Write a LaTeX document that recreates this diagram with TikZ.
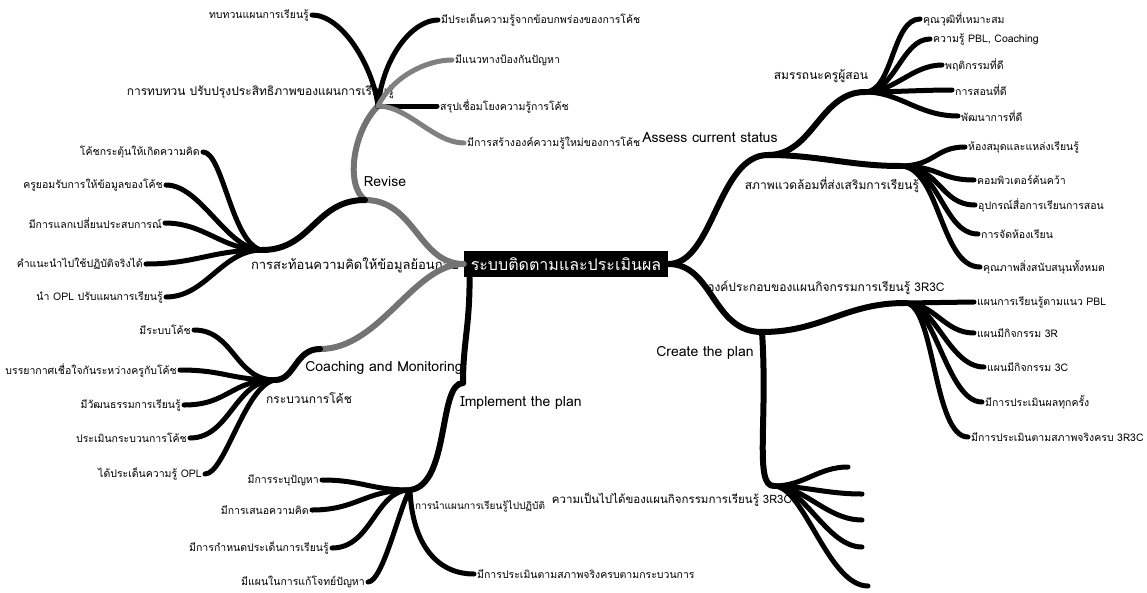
\documentclass[tikz,border=0pt]{standalone}
\usepackage{fontspec}
\setmainfont[Script=Thai]{Loma}
\usetikzlibrary{positioning}

\tikzset{
  hub/.style={fill=black, text=white, font=\fontsize{16}{19}\selectfont, inner xsep=7pt, inner ysep=7pt},
  stage/.style={font=\fontsize{14}{16}\selectfont, inner sep=1pt},
  topic/.style={font=\fontsize{12}{14}\selectfont, inner sep=1pt},
  leaf/.style={font=\fontsize{10.5}{12}\selectfont, inner sep=3pt},
  limb/.style={draw=black, line width=6pt, line cap=round},
  greylimb/.style={limb, draw=black!55},
  twig/.style={draw=black, line width=5pt, line cap=round},
  greytwig/.style={twig, draw=black!50},
}

\begin{document}
\begin{tikzpicture}[x=1pt, y=-1pt]
\useasboundingbox (0,0) rectangle (1147,592);

\node[hub] (root) at (566,264) {ระบบติดตามและประเมินผล};

\coordinate (jAssess) at (768,155);
\coordinate (jSmr) at (865,92);
\coordinate (jEnv) at (900,166);
\coordinate (jCreate) at (762,332);
\coordinate (jComp) at (905,303);
\coordinate (jFeas) at (774,486);
\coordinate (jRevise) at (365,200);
\coordinate (jReview) at (378,106);
\coordinate (jReflect) at (262,250);
\coordinate (jCoach) at (320,349);
\coordinate (jProc) at (275,380);
\coordinate (jImpl) at (463,383);
\coordinate (jUse) at (410,490);

\node[stage] (assess) at (710,138) {Assess current status};
\node[stage] (create) at (705,353) {Create the plan};
\node[stage] (revise) at (385,182) {Revise};
\node[stage] (coach) at (384,368) {Coaching and Monitoring};
\node[stage] (impl) at (521,403) {Implement the plan};

\node[topic] (smr) at (821,76) {สมรรถนะครูผู้สอน};
\node[topic] (env) at (832,185) {สภาพแวดล้อมที่ส่งเสริมการเรียนรู้};
\node[topic] (comp) at (826,288) {องค์ประกอบของแผนกิจกรรมการเรียนรู้ 3R3C};
\node[topic, anchor=east, font=\fontsize{11.5}{14}\selectfont] (feas) at (793,500) {ความเป็นไปได้ของแผนกิจกรรมการเรียนรู้ 3R3C};
\node[topic, anchor=east] (review) at (395,92) {การทบทวน ปรับปรุงประสิทธิภาพของแผนการเรียนรู้};
\node[topic, font=\fontsize{13}{15}\selectfont] (reflect) at (355,265) {การสะท้อนความคิดให้ข้อมูลย้อนกลับ};
\node[topic] (proc) at (309,398) {กระบวนการโค้ช};
\node[leaf, anchor=west, inner sep=1pt, font=\fontsize{10}{12}\selectfont] (use) at (414,506) {การนำแผนการเรียนรู้ไปปฏิบัติ};

\node[leaf, anchor=west] (sm1) at (920,19) {คุณวุฒิที่เหมาะสม};
\node[leaf, anchor=west] (sm2) at (930,39) {ความรู้ PBL, Coaching};
\node[leaf, anchor=west] (sm3) at (942,65) {พฤติกรรมที่ดี};
\node[leaf, anchor=west] (sm4) at (952,90) {การสอนที่ดี};
\node[leaf, anchor=west] (sm5) at (958,116) {พัฒนาการที่ดี};

\node[leaf, anchor=west] (en1) at (965,147) {ห้องสมุดและแหล่งเรียนรู้};
\node[leaf, anchor=west] (en2) at (974,180) {คอมพิวเตอร์ค้นคว้า};
\node[leaf, anchor=west] (en3) at (975,205) {อุปกรณ์สื่อการเรียนการสอน};
\node[leaf, anchor=west] (en4) at (978,234) {การจัดห้องเรียน};
\node[leaf, anchor=west] (en5) at (980,267) {คุณภาพสิ่งสนับสนุนทั้งหมด};

\node[leaf, anchor=west] (cp1) at (974,302) {แผนการเรียนรู้ตามแนว PBL};
\node[leaf, anchor=west] (cp2) at (974,333) {แผนมีกิจกรรม 3R};
\node[leaf, anchor=west] (cp3) at (984,367) {แผนมีกิจกรรม 3C};
\node[leaf, anchor=west] (cp4) at (982,402) {มีการประเมินผลทุกครั้ง};
\node[leaf, anchor=west] (cp5) at (968,437) {มีการประเมินตามสภาพจริงครบ 3R3C};

\coordinate (f1) at (848,467);
\coordinate (f2) at (862,494);
\coordinate (f3) at (862,520);
\coordinate (f4) at (862,547);
\coordinate (f5) at (868,586);

\node[leaf, anchor=east] (rv1) at (312,15) {ทบทวนแผนการเรียนรู้};
\node[leaf, anchor=west] (rv2) at (438,20) {มีประเด็นความรู้จากข้อบกพร่องของการโค้ช};
\node[leaf, anchor=west] (rv3) at (452,60) {มีแนวทางป้องกันปัญหา};
\node[leaf, anchor=west] (rv4) at (437,106) {สรุปเชื่อมโยงความรู้การโค้ช};
\node[leaf, anchor=west] (rv5) at (464,143) {มีการสร้างองค์ความรู้ใหม่ของการโค้ช};

\node[leaf, anchor=east] (rf1) at (203,152) {โค้ชกระตุ้นให้เกิดความคิด};
\node[leaf, anchor=east] (rf2) at (166,185) {ครูยอมรับการให้ข้อมูลของโค้ช};
\node[leaf, anchor=east] (rf3) at (165,223) {มีการแลกเปลี่ยนประสบการณ์};
\node[leaf, anchor=east] (rf4) at (146,264) {คำแนะนำไปใช้ปฏิบัติจริงได้};
\node[leaf, anchor=east] (rf5) at (166,297) {นำ OPL ปรับแผนการเรียนรู้};

\node[leaf, anchor=east] (pc1) at (194,330) {มีระบบโค้ช};
\node[leaf, anchor=east] (pc2) at (180,370) {บรรยากาศเชื่อใจกันระหว่างครูกับโค้ช};
\node[leaf, anchor=east] (pc3) at (184,405) {มีวัฒนธรรมการเรียนรู้};
\node[leaf, anchor=east] (pc4) at (190,438) {ประเมินกระบวนการโค้ช};
\node[leaf, anchor=east] (pc5) at (205,474) {ได้ประเด็นความรู้ OPL};

\node[leaf, anchor=east] (us1) at (322,480) {มีการระบุปัญหา};
\node[leaf, anchor=east] (us2) at (312,510) {มีการเสนอความคิด};
\node[leaf, anchor=east] (us3) at (332,548) {มีการกำหนดประเด็นการเรียนรู้};
\node[leaf, anchor=east] (us4) at (368,582) {มีแผนในการแก้โจทย์ปัญหา};
\node[leaf, anchor=west] (us5) at (474,574) {มีการประเมินตามสภาพจริงครบตามกระบวนการ};

\draw[limb] (root.east) .. controls +(45,0) and +(-50,0) .. (jAssess);
\draw[limb] (root.east) .. controls +(45,0) and +(-50,0) .. (jCreate);
\draw[limb] (jAssess) .. controls +(45,0) and +(-45,0) .. (jSmr);
\draw[limb] (jAssess) .. controls +(50,0) and +(-50,0) .. (jEnv);
\draw[limb] (jCreate) .. controls +(60,0) and +(-60,0) .. (jComp);
\draw[limb] (jCreate) .. controls +(6,90) and +(-20,0) .. (jFeas);

\draw[greylimb] (root.west) .. controls +(-45,0) and +(50,0) .. (jRevise);
\draw[greylimb] (root.west) .. controls +(-50,0) and +(60,0) .. (jCoach);
\draw[limb] ([xshift=6pt]root.south west) .. controls +(0,50) and +(0,-40) .. (jImpl);
\draw[greylimb] (jRevise) .. controls +(-20,-15) and +(-25,25) .. (jReview);
\draw[limb] (jRevise) .. controls +(-50,0) and +(50,0) .. (jReflect);
\draw[limb] (jCoach) .. controls +(-25,0) and +(20,0) .. (jProc);
\draw[limb] (jImpl) .. controls +(-25,0) and +(40,-5) .. (jUse);

\draw[twig] (jSmr) .. controls +(28,0) and +(-28,0) .. (sm1.west);
\draw[twig] (jSmr) .. controls +(30,0) and +(-28,0) .. (sm2.west);
\draw[twig] (jSmr) .. controls +(30,0) and +(-30,0) .. (sm3.west);
\draw[twig] (jSmr) .. controls +(30,0) and +(-30,0) .. (sm4.west);
\draw[twig] (jSmr) .. controls +(35,0) and +(-40,0) .. (sm5.west);

\draw[twig] (jEnv) .. controls +(35,0) and +(-30,0) .. (en1.west);
\draw[twig] (jEnv) .. controls +(40,0) and +(-35,0) .. (en2.west);
\draw[twig] (jEnv) .. controls +(40,0) and +(-35,0) .. (en3.west);
\draw[twig] (jEnv) .. controls +(40,0) and +(-35,0) .. (en4.west);
\draw[twig] (jEnv) .. controls +(40,0) and +(-40,0) .. (en5.west);

\draw[twig] (jComp) -- (cp1.west);
\draw[twig] (jComp) .. controls +(30,0) and +(-30,0) .. (cp2.west);
\draw[twig] (jComp) .. controls +(30,0) and +(-35,0) .. (cp3.west);
\draw[twig] (jComp) .. controls +(30,0) and +(-35,0) .. (cp4.west);
\draw[twig] (jComp) .. controls +(30,0) and +(-35,0) .. (cp5.west);

\draw[twig] (jFeas) .. controls +(30,0) and +(-30,0) .. (f1);
\draw[twig] (jFeas) .. controls +(30,0) and +(-35,0) .. (f2);
\draw[twig] (jFeas) .. controls +(30,0) and +(-35,0) .. (f3);
\draw[twig] (jFeas) .. controls +(30,0) and +(-35,0) .. (f4);
\draw[twig] (jFeas) .. controls +(30,0) and +(-40,0) .. (f5);

\draw[twig] (jReview) .. controls +(-5,-40) and +(30,0) .. (rv1.east);
\draw[twig] (jReview) .. controls +(5,-50) and +(-25,0) .. (rv2.west);
\draw[greytwig] (jReview) .. controls +(15,-30) and +(-25,0) .. (rv3.west);
\draw[twig] (jReview) .. controls +(20,0) and +(-20,0) .. (rv4.west);
\draw[greytwig] (jReview) .. controls +(30,0) and +(-30,0) .. (rv5.west);

\draw[twig] (jReflect) .. controls +(-30,-5) and +(20,0) .. (rf1.east);
\draw[twig] (jReflect) .. controls +(-35,0) and +(35,0) .. (rf2.east);
\draw[twig] (jReflect) .. controls +(-40,0) and +(40,0) .. (rf3.east);
\draw[twig] (jReflect) .. controls +(-50,0) and +(50,0) .. (rf4.east);
\draw[twig] (jReflect) .. controls +(-40,0) and +(40,0) .. (rf5.east);

\draw[twig] (jProc) .. controls +(-40,0) and +(40,0) .. (pc1.east);
\draw[twig] (jProc) .. controls +(-45,0) and +(45,0) .. (pc2.east);
\draw[twig] (jProc) .. controls +(-45,0) and +(45,0) .. (pc3.east);
\draw[twig] (jProc) .. controls +(-40,0) and +(40,0) .. (pc4.east);
\draw[twig] (jProc) .. controls +(-30,5) and +(20,0) .. (pc5.east);

\draw[twig] (jUse) .. controls +(-40,0) and +(40,0) .. (us1.east);
\draw[twig] (jUse) .. controls +(-45,0) and +(45,0) .. (us2.east);
\draw[twig] (jUse) .. controls +(-35,0) and +(40,0) .. (us3.east);
\draw[twig] (jUse) .. controls +(-10,15) and +(15,0) .. (us4.east);
\draw[twig] (jUse) .. controls +(2,50) and +(-40,0) .. (us5.west);

\end{tikzpicture}
\end{document}
